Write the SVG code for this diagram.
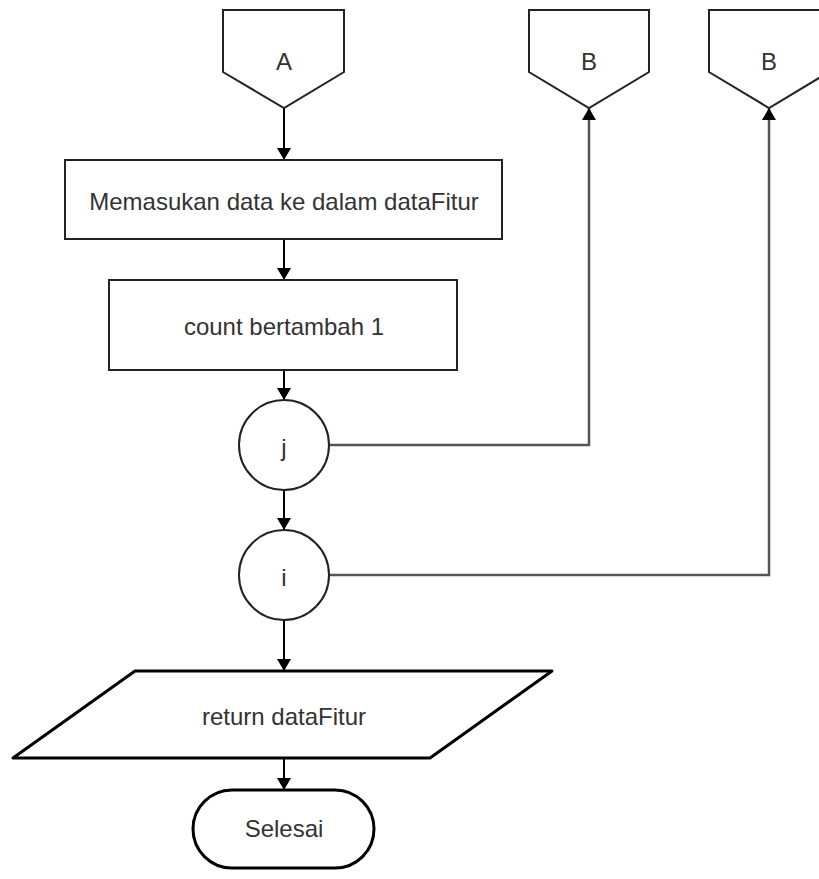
<svg xmlns="http://www.w3.org/2000/svg" width="819" height="879" viewBox="0 0 819 879">
  <defs>
    <marker id="arrow" viewBox="0 0 12 14" refX="12" refY="7" markerWidth="12" markerHeight="14" markerUnits="userSpaceOnUse" orient="auto">
      <path d="M0,0 L12,7 L0,14 Z" fill="#000"/>
    </marker>
    <style>
      .shape { fill: #fff; stroke: #222; stroke-width: 2; }
      .bold { fill: #fff; stroke: #000; stroke-width: 3; stroke-linejoin: round; }
      .label { font-family: "Liberation Sans", Arial, sans-serif; font-size: 24px; fill: #333; text-anchor: middle; dominant-baseline: central; }
      .flow { fill: none; stroke: #000; stroke-width: 2; marker-end: url(#arrow); }
      .loop { fill: none; stroke: #555; stroke-width: 2.5; marker-end: url(#arrow); }
    </style>
  </defs>
  <rect width="819" height="879" fill="#fff"/>

  <!-- connectors -->
  <g id="connectors">
    <path class="flow" d="M284,108 L284,160"/>
    <path class="flow" d="M284,239 L284,280"/>
    <path class="flow" d="M284,370 L284,400"/>
    <path class="flow" d="M284,490 L284,530"/>
    <path class="flow" d="M284,620 L284,671"/>
    <path class="flow" d="M284,758 L284,790"/>
    <path class="loop" d="M329,445 L589,445 L589,108"/>
    <path class="loop" d="M329,575 L769,575 L769,108"/>
  </g>

  <!-- off-page connectors -->
  <g id="offpage-a">
    <path class="shape" d="M223,10 L344,10 L344,72 L284,108 L223,72 Z"/>
    <text class="label" x="284" y="61">A</text>
  </g>
  <g id="offpage-b1">
    <path class="shape" d="M529,10 L649,10 L649,72 L589,108 L529,72 Z"/>
    <text class="label" x="589" y="61">B</text>
  </g>
  <g id="offpage-b2">
    <path class="shape" d="M709,10 L829,10 L829,72 L769,108 L709,72 Z"/>
    <text class="label" x="769" y="61">B</text>
  </g>

  <!-- process steps -->
  <g id="masukan-data">
    <rect class="shape" x="65" y="160" width="437" height="79"/>
    <text class="label" x="284" y="201">Memasukan data ke dalam dataFitur</text>
  </g>
  <g id="count-tambah">
    <rect class="shape" x="109" y="280" width="348" height="90"/>
    <text class="label" x="284" y="326">count bertambah 1</text>
  </g>

  <!-- loop connectors -->
  <g id="loop-j">
    <circle class="shape" cx="284" cy="445" r="45"/>
    <text class="label" x="284" y="447">j</text>
  </g>
  <g id="loop-i">
    <circle class="shape" cx="284" cy="575" r="45"/>
    <text class="label" x="284" y="577">i</text>
  </g>

  <!-- output -->
  <g id="return-data">
    <path class="bold" d="M135,671 L552,671 L430,758 L13,758 Z"/>
    <text class="label" x="284" y="716">return dataFitur</text>
  </g>

  <!-- terminator -->
  <g id="selesai">
    <rect class="bold" x="193" y="790" width="181" height="78" rx="39" ry="39"/>
    <text class="label" x="284" y="828">Selesai</text>
  </g>
</svg>
